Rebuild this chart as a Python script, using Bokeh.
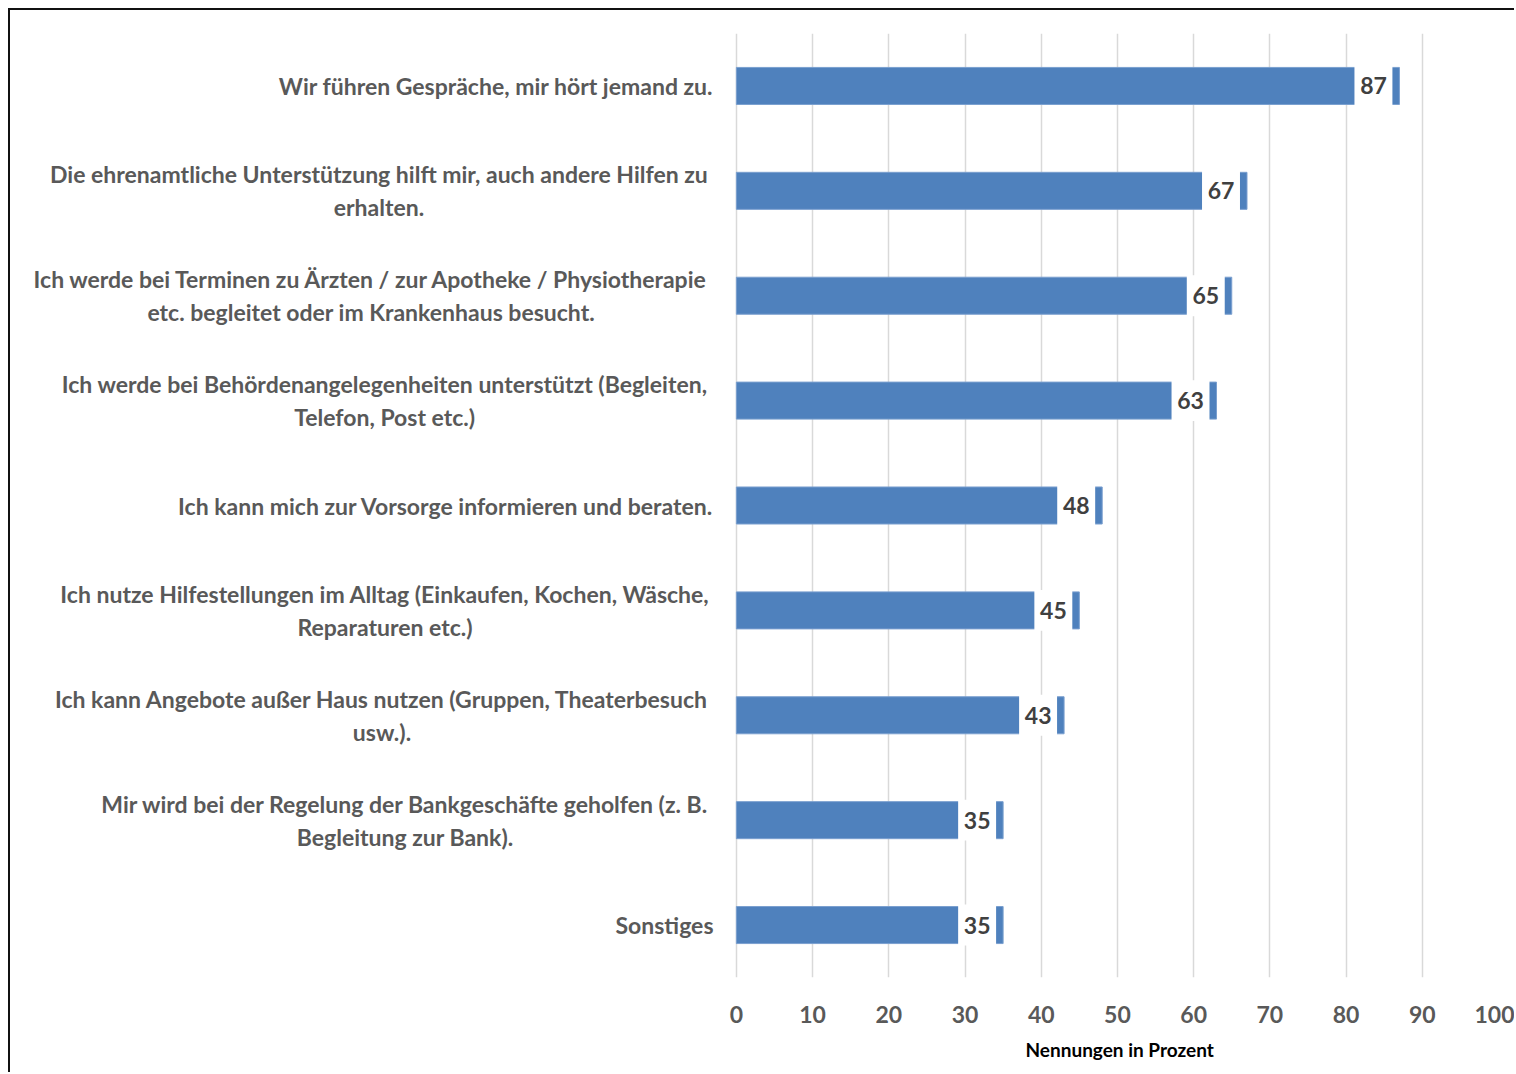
from bokeh.plotting import figure
from bokeh.models import ColumnDataSource, FixedTicker, Range1d, FactorRange, Title
from bokeh.transform import dodge
from bokeh.embed import file_html
from bokeh.resources import INLINE
from bokeh.core.properties import value

categories = [
    "Wir führen Gespräche, mir hört jemand zu.",
    "Die ehrenamtliche Unterstützung hilft mir, auch andere Hilfen zu\nerhalten.",
    "Ich werde bei Terminen zu Ärzten / zur Apotheke / Physiotherapie\netc. begleitet oder im Krankenhaus besucht.",
    "Ich werde bei Behördenangelegenheiten unterstützt (Begleiten,\nTelefon, Post etc.)",
    "Ich kann mich zur Vorsorge informieren und beraten.",
    "Ich nutze Hilfestellungen im Alltag (Einkaufen, Kochen, Wäsche,\nReparaturen etc.)",
    "Ich kann Angebote außer Haus nutzen (Gruppen, Theaterbesuch\nusw.).",
    "Mir wird bei der Regelung der Bankgeschäfte geholfen (z. B.\nBegleitung zur Bank).",
    "Sonstiges",
]
values = [87, 67, 65, 63, 48, 45, 43, 35, 35]
x_ticks = [0, 10, 20, 30, 40, 50, 60, 70, 80, 90, 100]
x_title = "Nennungen in Prozent"

# layout (x units, left of the 0 line): centre of each two-line label, right edge of one-line labels
multi_centers = [-46.9, -47.9, -46.15, -46.1, -46.5, -43.45]
single_right = -3.0
line_shift = 0.157  # half the line spacing, in category units
x_start = -95.24

BLUE = "#4F81BD"
FONT = "Lato"
GREY = "#595959"

src = ColumnDataSource(dict(
    cat=categories,
    val=values,
    box_l=[v - 5.9 for v in values],
    box_r=[v - 0.92 for v in values],
    lab_x=[v - 3.4 for v in values],
    lab=[str(v) for v in values],
))

single_cats = [c for c in categories if "\n" not in c]
multi_cats = [c for c in categories if "\n" in c]
src_single = ColumnDataSource(dict(cat=single_cats, txt=single_cats,
                                   x=[single_right] * len(single_cats)))
src_top = ColumnDataSource(dict(cat=multi_cats, txt=[c.split("\n")[0] for c in multi_cats],
                                x=multi_centers))
src_bot = ColumnDataSource(dict(cat=multi_cats, txt=[c.split("\n")[1] for c in multi_cats],
                                x=multi_centers))

p = figure(width=1506, height=1064,
           y_range=FactorRange(factors=list(reversed(categories))),
           x_range=Range1d(x_start, 100),
           output_backend="svg", toolbar_location=None,
           min_border_left=0, min_border_right=18,
           min_border_top=23, min_border_bottom=97)
p.styles = {"border-top": "2px solid #111111", "border-left": "2px solid #111111",
            "margin-left": "8px", "margin-top": "8px"}
p.outline_line_color = None

p.hbar(y="cat", left=0, right="val", height=0.353, source=src,
       fill_color=BLUE, line_color="#7A9FCF", line_width=1)
p.hbar(y="cat", left="box_l", right="box_r", height=0.39, source=src,
       fill_color="white", line_color=None)
p.text(x="lab_x", y="cat", text="lab", source=src,
       text_font=value(FONT), text_font_style="bold", text_font_size="23px",
       text_color="#404040", text_align="center", text_baseline="middle")

label_style = dict(text_font=value(FONT), text_font_style="bold",
                   text_font_size="23px", text_color=GREY, text_baseline="middle")
p.text(x="x", y="cat", text="txt", source=src_single, text_align="right", **label_style)
p.text(x="x", y=dodge("cat", line_shift, range=p.y_range), text="txt",
       source=src_top, text_align="center", **label_style)
p.text(x="x", y=dodge("cat", -line_shift, range=p.y_range), text="txt",
       source=src_bot, text_align="center", **label_style)

p.xaxis.ticker = FixedTicker(ticks=x_ticks)
p.xaxis.bounds = (0, 100)
p.xgrid.ticker = FixedTicker(ticks=x_ticks)
p.xgrid.grid_line_color = "#d9d9d9"
p.xgrid.grid_line_width = 1.5
p.ygrid.visible = False

p.xaxis.axis_line_color = None
p.xaxis.major_tick_line_color = None
p.xaxis.minor_tick_line_color = None
p.xaxis.major_label_text_font = FONT
p.xaxis.major_label_text_font_style = "bold"
p.xaxis.major_label_text_font_size = "23px"
p.xaxis.major_label_text_color = GREY
p.xaxis.major_label_standoff = 22

# axis title, placed under the 0-100 part of the axis
p.add_layout(Title(text=x_title, align="left", offset=1015, standoff=20,
                   text_font=FONT, text_font_style="bold", text_font_size="19px",
                   text_color="#000000"), "below")

p.yaxis.visible = False

open("out.html", "w").write(file_html(p, INLINE))
